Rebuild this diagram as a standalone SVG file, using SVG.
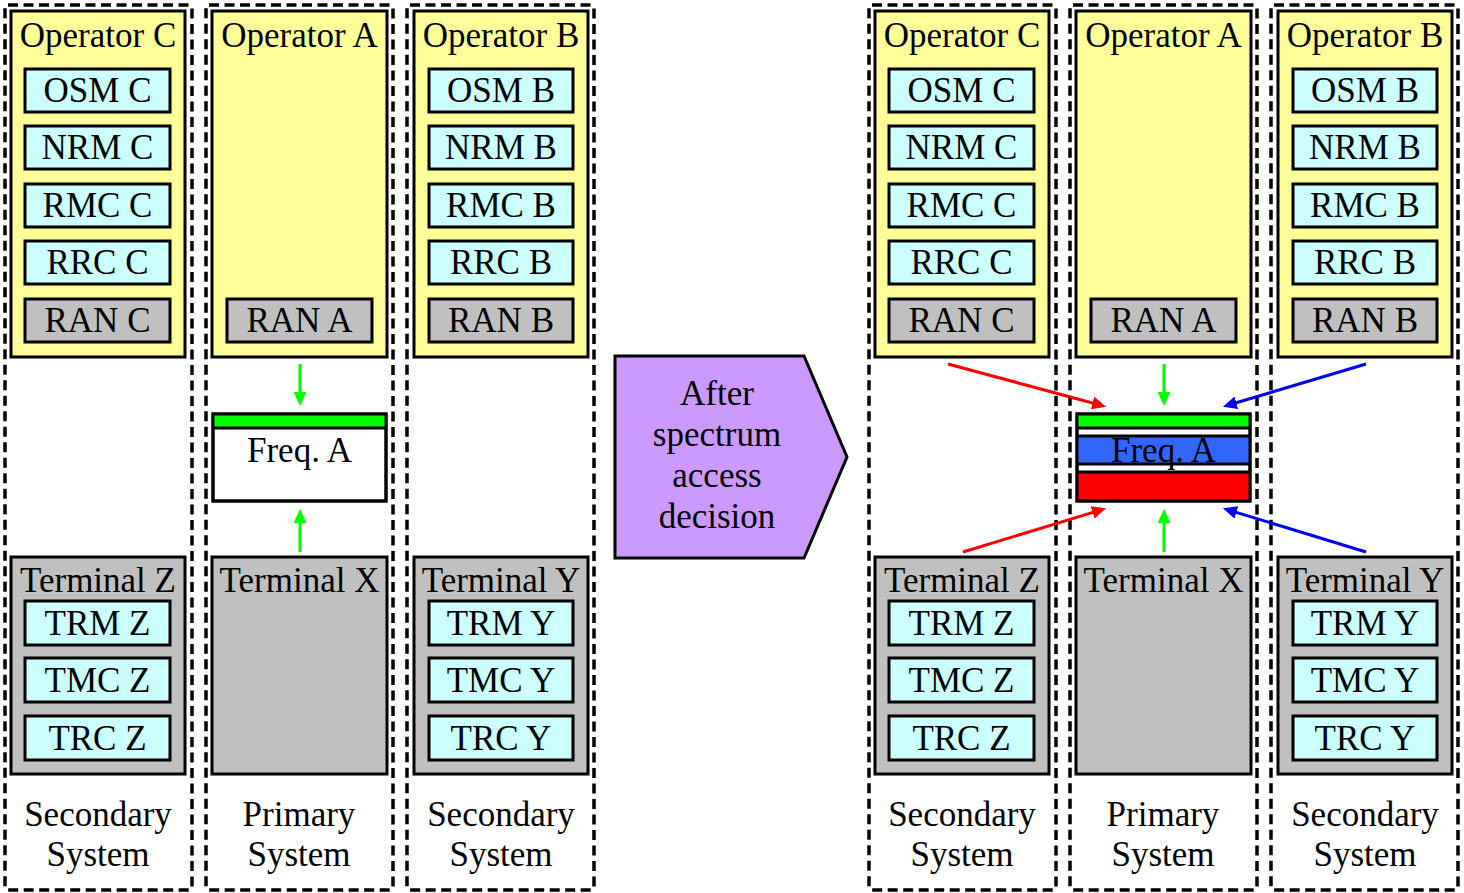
<svg xmlns="http://www.w3.org/2000/svg" width="1464" height="893" viewBox="0 0 1464 893" font-family="'Liberation Serif', 'Times New Roman', 'DejaVu Serif', serif">
<style>
text{font-family:'Liberation Serif','Times New Roman','DejaVu Serif',serif;font-size:35px;fill:#000;text-anchor:middle}
.sys{fill:none;stroke:#000;stroke-width:3.5;stroke-dasharray:10 5.5}
.op{fill:#FFFF99;stroke:#000;stroke-width:3}
.term{fill:#C0C0C0;stroke:#000;stroke-width:3}
.mod{fill:#CCFFFF;stroke:#000;stroke-width:3}
.ran{fill:#C0C0C0;stroke:#000;stroke-width:3}
.freq{fill:#fff;stroke:#000;stroke-width:3}
.band{stroke:none}
.sep{stroke:#000;stroke-width:3}
.g{stroke:#00FF00;stroke-width:3;fill:none;marker-end:url(#ag)}
.r{stroke:#FF0000;stroke-width:3;fill:none;marker-end:url(#ar)}
.b{stroke:#0000FF;stroke-width:3;fill:none;marker-end:url(#ab)}
</style>
<defs>
<marker id="ag" markerUnits="userSpaceOnUse" markerWidth="14" markerHeight="13" refX="1" refY="6.5" orient="auto"><path d="M0,0 L14,6.5 L0,13 z" fill="#00FF00"/></marker>
<marker id="ar" markerUnits="userSpaceOnUse" markerWidth="14" markerHeight="13" refX="1" refY="6.5" orient="auto"><path d="M0,0 L14,6.5 L0,13 z" fill="#FF0000"/></marker>
<marker id="ab" markerUnits="userSpaceOnUse" markerWidth="14" markerHeight="13" refX="1" refY="6.5" orient="auto"><path d="M0,0 L14,6.5 L0,13 z" fill="#0000FF"/></marker>
</defs>

<!-- LEFT: before decision -->
<g id="sysC1">
<rect class="sys" x="5" y="5" width="187" height="885" rx="3"/>
<text x="98" y="826">Secondary</text><text x="98" y="866">System</text>
</g>
<g id="sysA1">
<rect class="sys" x="206" y="5" width="187" height="885" rx="3"/>
<text x="299" y="826">Primary</text><text x="299" y="866">System</text>
</g>
<g id="sysB1">
<rect class="sys" x="407" y="5" width="187" height="885" rx="3"/>
<text x="501" y="826">Secondary</text><text x="501" y="866">System</text>
</g>

<g id="opC1">
<rect class="op" x="11" y="11" width="174" height="346"/>
<text x="98" y="47">Operator C</text>
<rect class="mod" x="25" y="69" width="145" height="43"/><text x="97.5" y="102">OSM C</text>
<rect class="mod" x="25" y="126" width="145" height="43"/><text x="97.5" y="159">NRM C</text>
<rect class="mod" x="25" y="184" width="145" height="43"/><text x="97.5" y="217">RMC C</text>
<rect class="mod" x="25" y="241" width="145" height="43"/><text x="97.5" y="274">RRC C</text>
<rect class="ran" x="25" y="299" width="145" height="43"/><text x="97.5" y="332">RAN C</text>
</g>
<g id="opA1">
<rect class="op" x="212" y="11" width="175" height="346"/>
<text x="299.5" y="47">Operator A</text>
<rect class="ran" x="227" y="299" width="145" height="43"/><text x="299.5" y="332">RAN A</text>
</g>
<g id="opB1">
<rect class="op" x="414" y="11" width="174" height="346"/>
<text x="501" y="47">Operator B</text>
<rect class="mod" x="429" y="69" width="144" height="43"/><text x="501" y="102">OSM B</text>
<rect class="mod" x="429" y="126" width="144" height="43"/><text x="501" y="159">NRM B</text>
<rect class="mod" x="429" y="184" width="144" height="43"/><text x="501" y="217">RMC B</text>
<rect class="mod" x="429" y="241" width="144" height="43"/><text x="501" y="274">RRC B</text>
<rect class="ran" x="429" y="299" width="144" height="43"/><text x="501" y="332">RAN B</text>
</g>

<g id="freqA1">
<rect class="freq" x="213" y="414" width="173" height="87"/>
<rect class="band" x="213" y="414" width="173" height="14" fill="#00FF00"/>
<line class="sep" x1="213" y1="428" x2="386" y2="428"/>
<rect fill="none" stroke="#000" stroke-width="3" x="213" y="414" width="173" height="87"/>
<text x="299.5" y="462">Freq. A</text>
</g>

<g id="termZ1">
<rect class="term" x="11" y="557" width="174" height="217"/>
<text x="98" y="592">Terminal Z</text>
<rect class="mod" x="25" y="601" width="145" height="44"/><text x="97.5" y="635">TRM Z</text>
<rect class="mod" x="25" y="658" width="145" height="44"/><text x="97.5" y="692">TMC Z</text>
<rect class="mod" x="25" y="716" width="145" height="44"/><text x="97.5" y="750">TRC Z</text>
</g>
<g id="termX1">
<rect class="term" x="212" y="557" width="175" height="217"/>
<text x="299.5" y="592">Terminal X</text>
</g>
<g id="termY1">
<rect class="term" x="414" y="557" width="174" height="217"/>
<text x="501" y="592">Terminal Y</text>
<rect class="mod" x="429" y="601" width="144" height="44"/><text x="501" y="635">TRM Y</text>
<rect class="mod" x="429" y="658" width="144" height="44"/><text x="501" y="692">TMC Y</text>
<rect class="mod" x="429" y="716" width="144" height="44"/><text x="501" y="750">TRC Y</text>
</g>

<!-- MIDDLE -->
<g id="decision">
<path d="M615,356 L804,356 L847,457 L804,558 L615,558 Z" fill="#CC99FF" stroke="#000" stroke-width="3"/>
<text x="717" y="405">After</text>
<text x="717" y="446">spectrum</text>
<text x="717" y="487">access</text>
<text x="717" y="528">decision</text>
</g>

<!-- RIGHT: after decision -->
<g id="sysC2">
<rect class="sys" x="869" y="5" width="187" height="885" rx="3"/>
<text x="962" y="826">Secondary</text><text x="962" y="866">System</text>
</g>
<g id="sysA2">
<rect class="sys" x="1070" y="5" width="187" height="885" rx="3"/>
<text x="1163" y="826">Primary</text><text x="1163" y="866">System</text>
</g>
<g id="sysB2">
<rect class="sys" x="1271" y="5" width="187" height="885" rx="3"/>
<text x="1365" y="826">Secondary</text><text x="1365" y="866">System</text>
</g>

<g id="opC2">
<rect class="op" x="875" y="11" width="174" height="346"/>
<text x="962" y="47">Operator C</text>
<rect class="mod" x="889" y="69" width="145" height="43"/><text x="961.5" y="102">OSM C</text>
<rect class="mod" x="889" y="126" width="145" height="43"/><text x="961.5" y="159">NRM C</text>
<rect class="mod" x="889" y="184" width="145" height="43"/><text x="961.5" y="217">RMC C</text>
<rect class="mod" x="889" y="241" width="145" height="43"/><text x="961.5" y="274">RRC C</text>
<rect class="ran" x="889" y="299" width="145" height="43"/><text x="961.5" y="332">RAN C</text>
</g>
<g id="opA2">
<rect class="op" x="1076" y="11" width="175" height="346"/>
<text x="1163.5" y="47">Operator A</text>
<rect class="ran" x="1091" y="299" width="145" height="43"/><text x="1163.5" y="332">RAN A</text>
</g>
<g id="opB2">
<rect class="op" x="1278" y="11" width="174" height="346"/>
<text x="1365" y="47">Operator B</text>
<rect class="mod" x="1293" y="69" width="144" height="43"/><text x="1365" y="102">OSM B</text>
<rect class="mod" x="1293" y="126" width="144" height="43"/><text x="1365" y="159">NRM B</text>
<rect class="mod" x="1293" y="184" width="144" height="43"/><text x="1365" y="217">RMC B</text>
<rect class="mod" x="1293" y="241" width="144" height="43"/><text x="1365" y="274">RRC B</text>
<rect class="ran" x="1293" y="299" width="144" height="43"/><text x="1365" y="332">RAN B</text>
</g>

<g id="freqA2">
<rect class="freq" x="1077" y="414" width="173" height="87"/>
<rect class="band" x="1077" y="414" width="173" height="14" fill="#00FF00"/>
<rect class="band" x="1077" y="436" width="173" height="28" fill="#3366FF"/>
<rect class="band" x="1077" y="472" width="173" height="29" fill="#FF0000"/>
<line class="sep" x1="1077" y1="428" x2="1250" y2="428"/>
<line class="sep" x1="1077" y1="436" x2="1250" y2="436"/>
<line class="sep" x1="1077" y1="464" x2="1250" y2="464"/>
<line class="sep" x1="1077" y1="472" x2="1250" y2="472"/>
<rect fill="none" stroke="#000" stroke-width="3" x="1077" y="414" width="173" height="87"/>
<text x="1163.5" y="462">Freq. A</text>
</g>

<g id="termZ2">
<rect class="term" x="875" y="557" width="174" height="217"/>
<text x="962" y="592">Terminal Z</text>
<rect class="mod" x="889" y="601" width="145" height="44"/><text x="961.5" y="635">TRM Z</text>
<rect class="mod" x="889" y="658" width="145" height="44"/><text x="961.5" y="692">TMC Z</text>
<rect class="mod" x="889" y="716" width="145" height="44"/><text x="961.5" y="750">TRC Z</text>
</g>
<g id="termX2">
<rect class="term" x="1076" y="557" width="175" height="217"/>
<text x="1163.5" y="592">Terminal X</text>
</g>
<g id="termY2">
<rect class="term" x="1278" y="557" width="174" height="217"/>
<text x="1365" y="592">Terminal Y</text>
<rect class="mod" x="1293" y="601" width="144" height="44"/><text x="1365" y="635">TRM Y</text>
<rect class="mod" x="1293" y="658" width="144" height="44"/><text x="1365" y="692">TMC Y</text>
<rect class="mod" x="1293" y="716" width="144" height="44"/><text x="1365" y="750">TRC Y</text>
</g>

<!-- CONNECTORS -->
<g id="connectors">
<line class="g" x1="300" y1="364" x2="300" y2="393"/>
<line class="g" x1="300" y1="552" x2="300" y2="522"/>
<line class="g" x1="1164" y1="364" x2="1164" y2="393"/>
<line class="g" x1="1164" y1="552" x2="1164" y2="522"/>
<line class="r" x1="948" y1="364" x2="1093.5" y2="403.3"/>
<line class="r" x1="963" y1="552" x2="1093.6" y2="512.1"/>
<line class="b" x1="1366" y1="364" x2="1235.4" y2="403"/>
<line class="b" x1="1366" y1="552" x2="1235.4" y2="512.1"/>
</g>
</svg>
